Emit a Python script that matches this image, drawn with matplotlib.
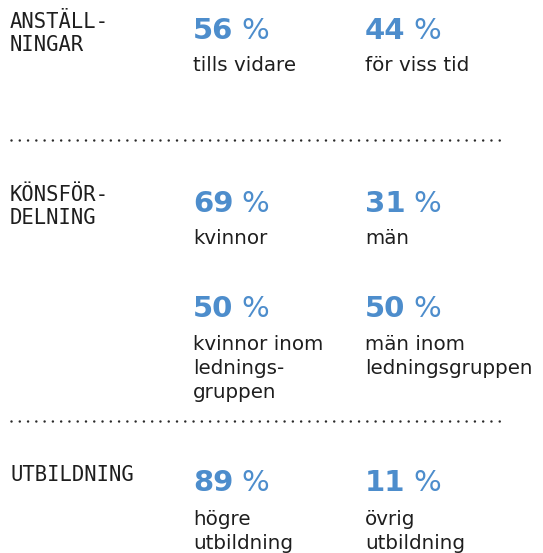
import matplotlib
matplotlib.use("Agg")
import matplotlib.pyplot as plt

# ---- data ----
sections = [["ANSTÄLL-", "NINGAR"], ["KÖNSFÖR-", "DELNING"], ["UTBILDNING"]]
values_left = [56, 69, 50, 89]
values_right = [44, 31, 50, 11]
labels_left = [["tills vidare"], ["kvinnor"], ["kvinnor inom", "lednings-", "gruppen"],
               ["högre", "utbildning"]]
labels_right = [["för viss tid"], ["män"], ["män inom", "ledningsgruppen"],
                ["övrig", "utbildning"]]

BLUE = "#4d8dcc"
DARK = "#1e1e1e"

W, H = 543, 553
fig = plt.figure(figsize=(W / 100, H / 100), dpi=100)
ax = fig.add_axes([0, 0, 1, 1])
ax.set_xlim(0, W)
ax.set_ylim(H, 0)
ax.axis("off")

# layout (pixel positions)
x_head, x_c1, x_c2 = 10, 193, 365
head_base = [28, 201, 481]
head_step = 23
num_base = [39, 212, 317, 491]
lab_base = [71, 244, 350, 525]
lab_step = 24
sep_y = [140, 421]

head_font = dict(family="DejaVu Sans Mono", fontsize=14.8, color=DARK)
num_font = dict(family="DejaVu Sans", fontsize=21, fontweight="bold", color=BLUE)
pct_font = dict(family="DejaVu Sans", fontsize=21, color=BLUE)
lab_font = dict(family="DejaVu Sans", fontsize=14.3, color=DARK)

for lines, yb in zip(sections, head_base):
    for i, ln in enumerate(lines):
        ax.text(x_head, yb + i * head_step, ln, va="baseline", ha="left", **head_font)


def number(x, y, v):
    t = ax.text(x, y, f"{v}", va="baseline", ha="left", **num_font)
    ax.annotate("%", xy=(1, 0), xycoords=t, xytext=(8, 0), textcoords="offset pixels",
                va="bottom", ha="left", **pct_font)


def label(x, y, lines):
    for i, ln in enumerate(lines):
        ax.text(x, y + i * lab_step, ln, va="baseline", ha="left", **lab_font)


for i in range(4):
    number(x_c1, num_base[i], values_left[i])
    number(x_c2, num_base[i], values_right[i])
    label(x_c1, lab_base[i], labels_left[i])
    label(x_c2, lab_base[i], labels_right[i])

for y in sep_y:
    ax.plot([11, 500], [y, y], color="#2a2a2a", lw=1.8,
            ls=(0, (0.01, 3.3)), dash_capstyle="round", solid_capstyle="round")

fig.savefig("out.png", dpi=100)
